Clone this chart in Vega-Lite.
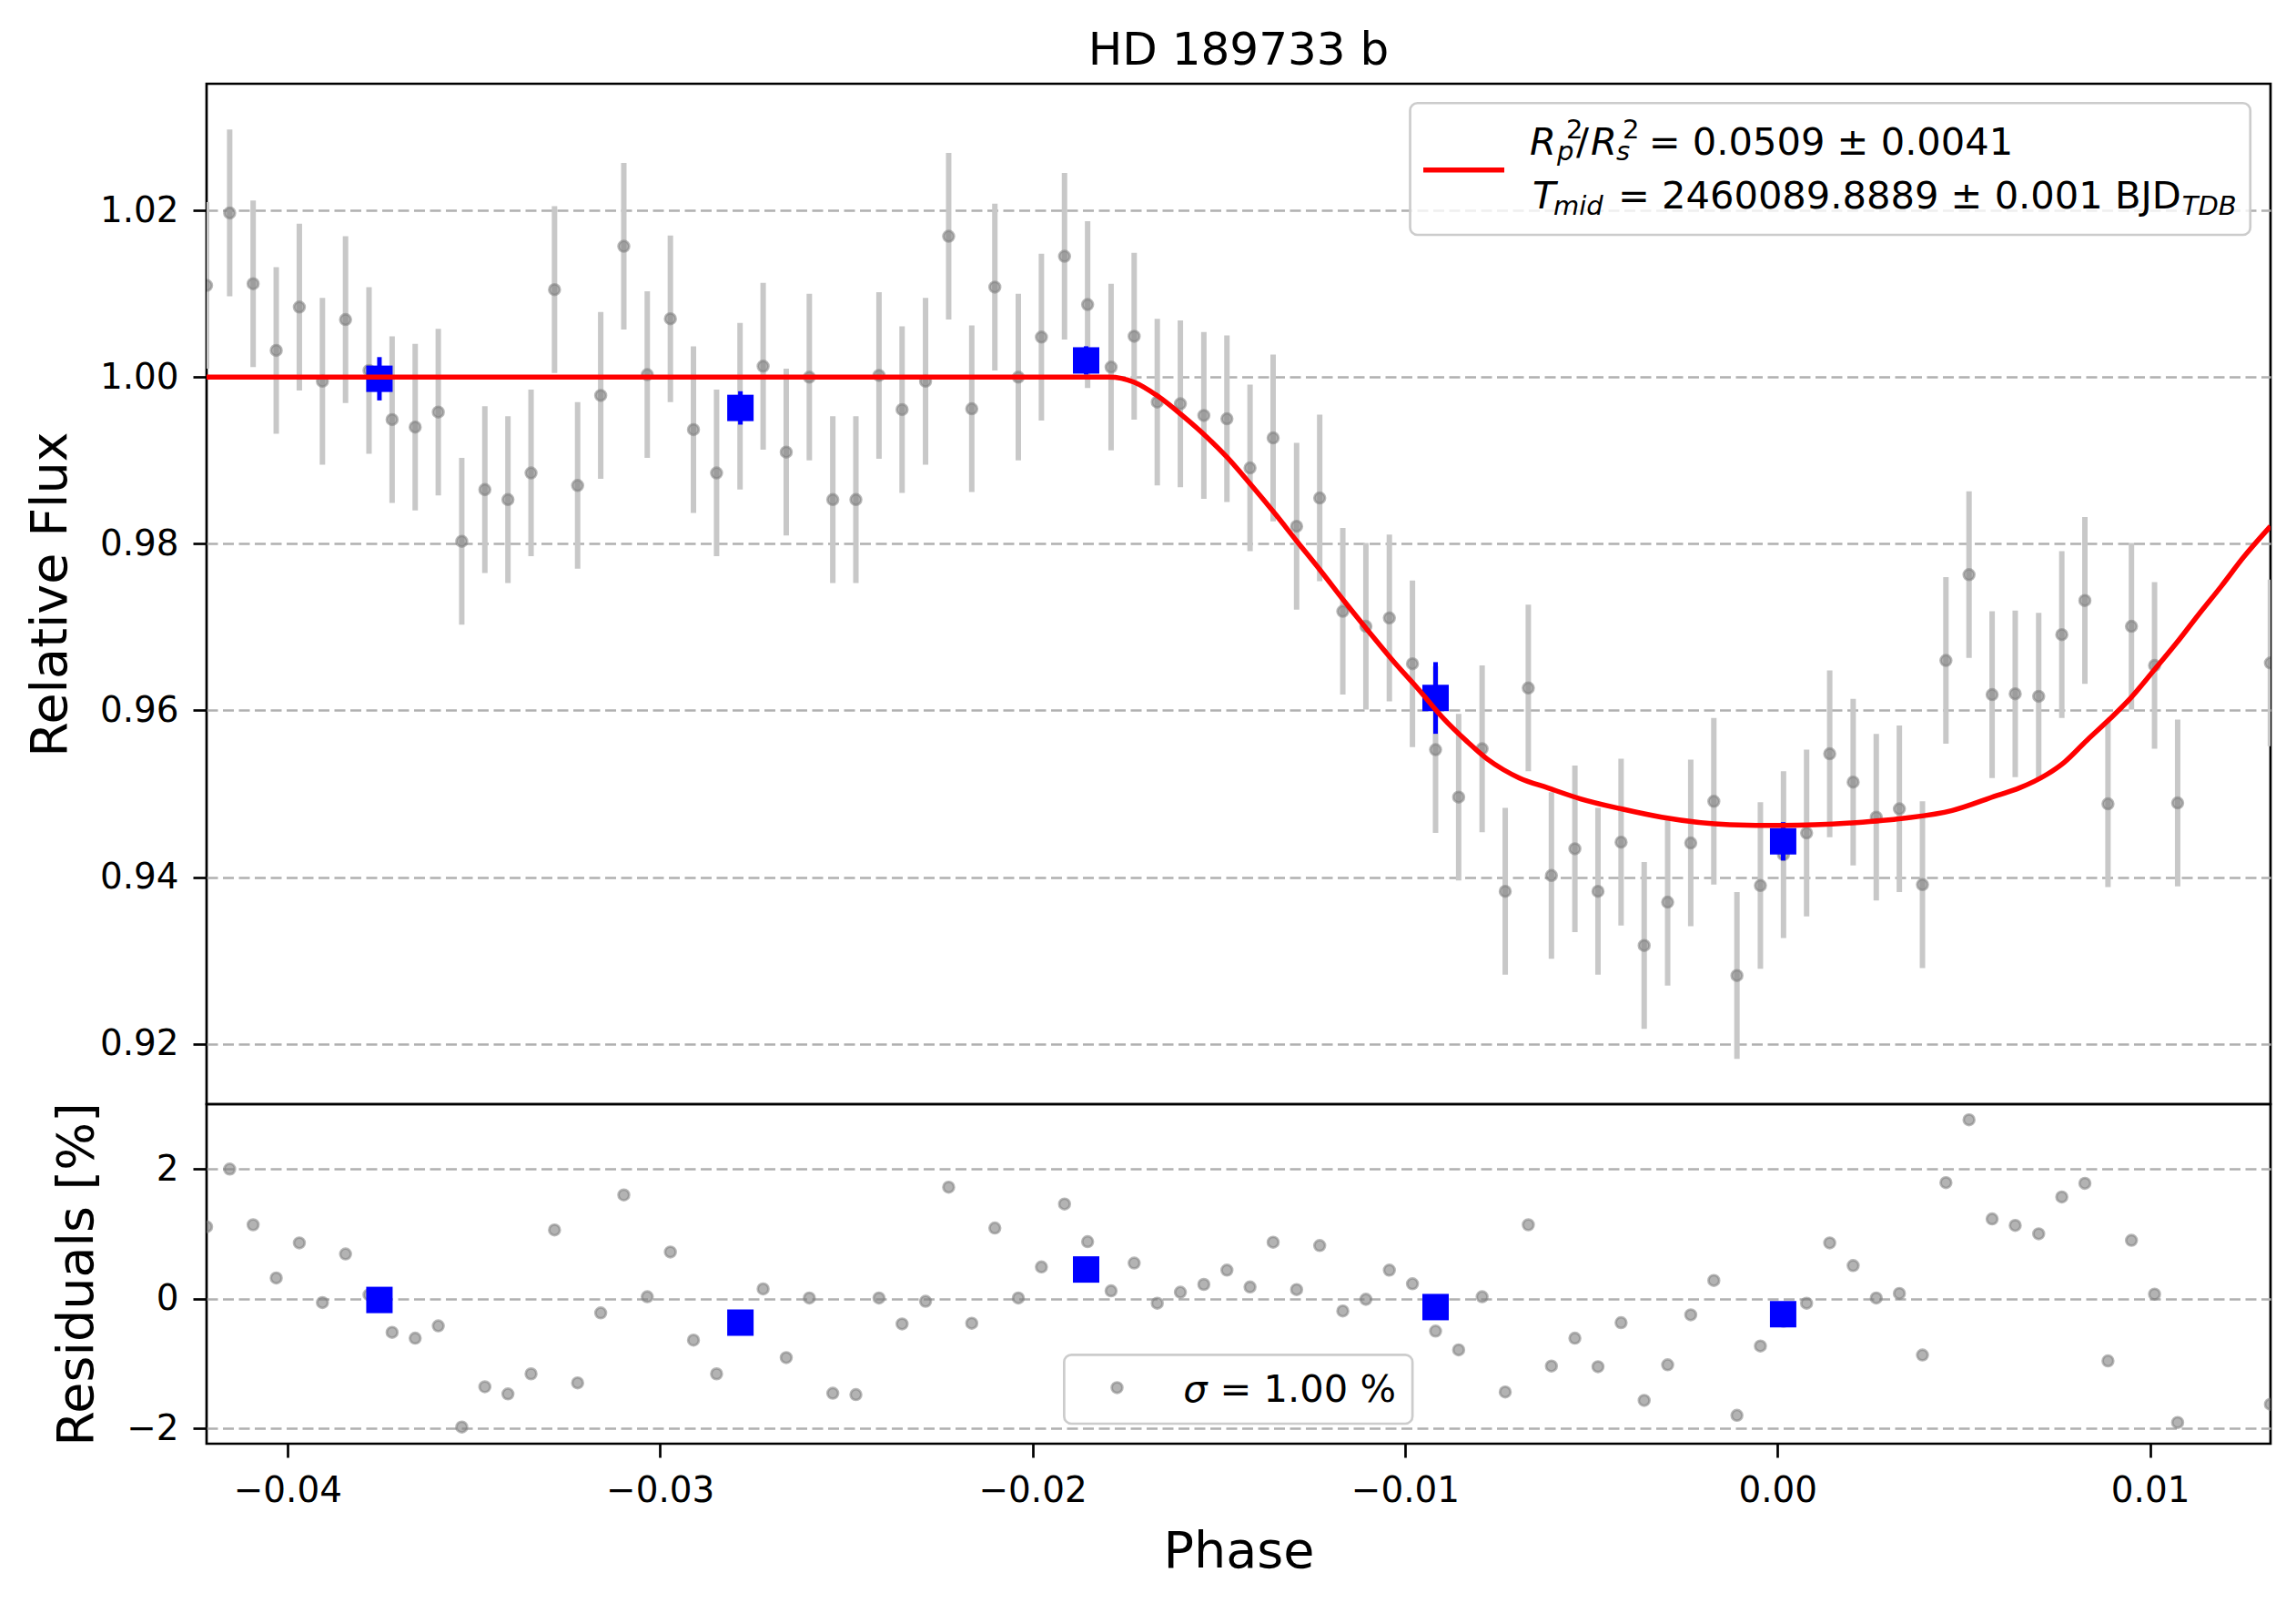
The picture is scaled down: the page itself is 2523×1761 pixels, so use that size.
{
  "$schema": "https://vega.github.io/schema/vega-lite/v6.json",
  "background": "white",
  "padding": {"left": 26, "top": 29, "right": 0, "bottom": 0},
  "spacing": 0,
  "bounds": "flush",
  "resolve": {"scale": {"x": "independent", "y": "independent"}},
  "config": {
    "font": "DejaVu Sans",
    "view": {"stroke": "black", "strokeWidth": 2.7},
    "axis": {
      "domain": false,
      "tickColor": "black",
      "tickWidth": 2.7,
      "tickSize": 15,
      "labelFont": "DejaVu Sans",
      "labelFontSize": 38.9,
      "labelColor": "black",
      "labelOverlap": false,
      "labelFlush": false,
      "titleFont": "DejaVu Sans",
      "titleFontSize": 55.6,
      "titleFontWeight": "normal",
      "titleColor": "black",
      "gridColor": "#b0b0b0",
      "gridDash": [12, 5.5],
      "gridWidth": 2.4
    }
  },
  "datasets": {
    "pts": [
      {"phase": -0.04217, "flux": 1.0110, "err": 0.01, "resid": 1.11},
      {"phase": -0.04155, "flux": 1.0197, "err": 0.01, "resid": 2.00},
      {"phase": -0.04092, "flux": 1.0112, "err": 0.01, "resid": 1.14},
      {"phase": -0.04030, "flux": 1.0032, "err": 0.01, "resid": 0.32},
      {"phase": -0.03968, "flux": 1.0084, "err": 0.01, "resid": 0.86},
      {"phase": -0.03906, "flux": 0.9995, "err": 0.01, "resid": -0.06},
      {"phase": -0.03844, "flux": 1.0069, "err": 0.01, "resid": 0.69},
      {"phase": -0.03781, "flux": 1.0008, "err": 0.01, "resid": 0.06},
      {"phase": -0.03719, "flux": 0.9949, "err": 0.01, "resid": -0.52},
      {"phase": -0.03657, "flux": 0.9940, "err": 0.01, "resid": -0.61},
      {"phase": -0.03595, "flux": 0.9958, "err": 0.01, "resid": -0.42},
      {"phase": -0.03532, "flux": 0.9803, "err": 0.01, "resid": -1.98},
      {"phase": -0.03470, "flux": 0.9865, "err": 0.01, "resid": -1.36},
      {"phase": -0.03408, "flux": 0.9853, "err": 0.01, "resid": -1.47},
      {"phase": -0.03346, "flux": 0.9885, "err": 0.01, "resid": -1.16},
      {"phase": -0.03283, "flux": 1.0105, "err": 0.01, "resid": 1.06},
      {"phase": -0.03221, "flux": 0.9870, "err": 0.01, "resid": -1.30},
      {"phase": -0.03159, "flux": 0.9978, "err": 0.01, "resid": -0.22},
      {"phase": -0.03097, "flux": 1.0157, "err": 0.01, "resid": 1.60},
      {"phase": -0.03034, "flux": 1.0003, "err": 0.01, "resid": 0.03},
      {"phase": -0.02972, "flux": 1.0070, "err": 0.01, "resid": 0.72},
      {"phase": -0.02910, "flux": 0.9937, "err": 0.01, "resid": -0.64},
      {"phase": -0.02848, "flux": 0.9885, "err": 0.01, "resid": -1.16},
      {"phase": -0.02785, "flux": 0.9965, "err": 0.01, "resid": -0.35},
      {"phase": -0.02723, "flux": 1.0013, "err": 0.01, "resid": 0.15},
      {"phase": -0.02661, "flux": 0.9910, "err": 0.01, "resid": -0.91},
      {"phase": -0.02599, "flux": 1.0000, "err": 0.01, "resid": 0.01},
      {"phase": -0.02536, "flux": 0.9853, "err": 0.01, "resid": -1.46},
      {"phase": -0.02474, "flux": 0.9853, "err": 0.01, "resid": -1.48},
      {"phase": -0.02412, "flux": 1.0002, "err": 0.01, "resid": 0.01},
      {"phase": -0.02350, "flux": 0.9961, "err": 0.01, "resid": -0.39},
      {"phase": -0.02287, "flux": 0.9995, "err": 0.01, "resid": -0.04},
      {"phase": -0.02225, "flux": 1.0169, "err": 0.01, "resid": 1.72},
      {"phase": -0.02163, "flux": 0.9962, "err": 0.01, "resid": -0.38},
      {"phase": -0.02101, "flux": 1.0108, "err": 0.01, "resid": 1.09},
      {"phase": -0.02038, "flux": 1.0000, "err": 0.01, "resid": 0.01},
      {"phase": -0.01976, "flux": 1.0048, "err": 0.01, "resid": 0.49},
      {"phase": -0.01914, "flux": 1.0145, "err": 0.01, "resid": 1.46},
      {"phase": -0.01852, "flux": 1.0087, "err": 0.01, "resid": 0.88},
      {"phase": -0.01789, "flux": 1.0012, "err": 0.01, "resid": 0.12},
      {"phase": -0.01727, "flux": 1.0049, "err": 0.01, "resid": 0.55},
      {"phase": -0.01665, "flux": 0.9970, "err": 0.01, "resid": -0.07},
      {"phase": -0.01603, "flux": 0.9968, "err": 0.01, "resid": 0.10},
      {"phase": -0.01540, "flux": 0.9954, "err": 0.01, "resid": 0.22},
      {"phase": -0.01478, "flux": 0.9950, "err": 0.01, "resid": 0.44},
      {"phase": -0.01416, "flux": 0.9891, "err": 0.01, "resid": 0.18},
      {"phase": -0.01354, "flux": 0.9927, "err": 0.01, "resid": 0.87},
      {"phase": -0.01291, "flux": 0.9821, "err": 0.01, "resid": 0.14},
      {"phase": -0.01229, "flux": 0.9855, "err": 0.01, "resid": 0.82},
      {"phase": -0.01167, "flux": 0.9719, "err": 0.01, "resid": -0.19},
      {"phase": -0.01105, "flux": 0.9701, "err": 0.01, "resid": -0.01},
      {"phase": -0.01042, "flux": 0.9711, "err": 0.01, "resid": 0.44},
      {"phase": -0.00980, "flux": 0.9656, "err": 0.01, "resid": 0.23},
      {"phase": -0.00918, "flux": 0.9553, "err": 0.01, "resid": -0.50},
      {"phase": -0.00856, "flux": 0.9496, "err": 0.01, "resid": -0.79},
      {"phase": -0.00793, "flux": 0.9554, "err": 0.01, "resid": 0.03},
      {"phase": -0.00731, "flux": 0.9383, "err": 0.01, "resid": -1.44},
      {"phase": -0.00669, "flux": 0.9627, "err": 0.01, "resid": 1.14},
      {"phase": -0.00607, "flux": 0.9402, "err": 0.01, "resid": -1.04},
      {"phase": -0.00544, "flux": 0.9434, "err": 0.01, "resid": -0.61},
      {"phase": -0.00482, "flux": 0.9383, "err": 0.01, "resid": -1.05},
      {"phase": -0.00420, "flux": 0.9442, "err": 0.01, "resid": -0.37},
      {"phase": -0.00358, "flux": 0.9318, "err": 0.01, "resid": -1.57},
      {"phase": -0.00295, "flux": 0.9370, "err": 0.01, "resid": -1.02},
      {"phase": -0.00233, "flux": 0.9441, "err": 0.01, "resid": -0.25},
      {"phase": -0.00171, "flux": 0.9491, "err": 0.01, "resid": 0.28},
      {"phase": -0.00109, "flux": 0.9282, "err": 0.01, "resid": -1.80},
      {"phase": -0.00046, "flux": 0.9390, "err": 0.01, "resid": -0.73},
      {"phase": 0.00016, "flux": 0.9427, "err": 0.01, "resid": -0.35},
      {"phase": 0.00078, "flux": 0.9453, "err": 0.01, "resid": -0.07},
      {"phase": 0.00140, "flux": 0.9548, "err": 0.01, "resid": 0.86},
      {"phase": 0.00203, "flux": 0.9514, "err": 0.01, "resid": 0.51},
      {"phase": 0.00265, "flux": 0.9472, "err": 0.01, "resid": 0.01},
      {"phase": 0.00327, "flux": 0.9482, "err": 0.01, "resid": 0.08},
      {"phase": 0.00389, "flux": 0.9391, "err": 0.01, "resid": -0.87},
      {"phase": 0.00452, "flux": 0.9660, "err": 0.01, "resid": 1.79},
      {"phase": 0.00514, "flux": 0.9763, "err": 0.01, "resid": 2.76},
      {"phase": 0.00576, "flux": 0.9619, "err": 0.01, "resid": 1.23},
      {"phase": 0.00638, "flux": 0.9620, "err": 0.01, "resid": 1.13},
      {"phase": 0.00701, "flux": 0.9617, "err": 0.01, "resid": 1.00},
      {"phase": 0.00763, "flux": 0.9691, "err": 0.01, "resid": 1.57},
      {"phase": 0.00825, "flux": 0.9732, "err": 0.01, "resid": 1.78},
      {"phase": 0.00887, "flux": 0.9488, "err": 0.01, "resid": -0.96},
      {"phase": 0.00950, "flux": 0.9701, "err": 0.01, "resid": 0.90},
      {"phase": 0.01012, "flux": 0.9654, "err": 0.01, "resid": 0.07},
      {"phase": 0.01074, "flux": 0.9489, "err": 0.01, "resid": -1.91},
      {"phase": 0.01323, "flux": 0.9657, "err": 0.01, "resid": -1.63}
    ],
    "bins": [
      {"phase": -0.03753, "flux": 0.9998, "err": 0.0026, "resid": -0.02},
      {"phase": -0.02784, "flux": 0.9963, "err": 0.0020, "resid": -0.37},
      {"phase": -0.01856, "flux": 1.0020, "err": 0.0017, "resid": 0.45},
      {"phase": -0.00918, "flux": 0.9615, "err": 0.0043, "resid": -0.13},
      {"phase": 0.00015, "flux": 0.9443, "err": 0.0023, "resid": -0.24}
    ],
    "model": [
      {"phase": -0.04217, "flux": 1.0000},
      {"phase": -0.01794, "flux": 1.0000},
      {"phase": -0.01728, "flux": 0.9994},
      {"phase": -0.01663, "flux": 0.9977},
      {"phase": -0.01598, "flux": 0.9954},
      {"phase": -0.01532, "flux": 0.9928},
      {"phase": -0.01478, "flux": 0.9904},
      {"phase": -0.01412, "flux": 0.9870},
      {"phase": -0.01347, "flux": 0.9835},
      {"phase": -0.01292, "flux": 0.9804},
      {"phase": -0.01227, "flux": 0.9768},
      {"phase": -0.01161, "flux": 0.9730},
      {"phase": -0.01096, "flux": 0.9694},
      {"phase": -0.01031, "flux": 0.9659},
      {"phase": -0.00965, "flux": 0.9626},
      {"phase": -0.00900, "flux": 0.9592},
      {"phase": -0.00834, "flux": 0.9563},
      {"phase": -0.00780, "flux": 0.9542},
      {"phase": -0.00736, "flux": 0.9529},
      {"phase": -0.00693, "flux": 0.9519},
      {"phase": -0.00616, "flux": 0.9507},
      {"phase": -0.00529, "flux": 0.9494},
      {"phase": -0.00420, "flux": 0.9482},
      {"phase": -0.00311, "flux": 0.9472},
      {"phase": -0.00128, "flux": 0.9463},
      {"phase": 0.00011, "flux": 0.9462},
      {"phase": 0.00228, "flux": 0.9466},
      {"phase": 0.00348, "flux": 0.9471},
      {"phase": 0.00469, "flux": 0.9480},
      {"phase": 0.00589, "flux": 0.9498},
      {"phase": 0.00649, "flux": 0.9507},
      {"phase": 0.00722, "flux": 0.9523},
      {"phase": 0.00770, "flux": 0.9538},
      {"phase": 0.00830, "flux": 0.9564},
      {"phase": 0.00890, "flux": 0.9589},
      {"phase": 0.00950, "flux": 0.9616},
      {"phase": 0.01010, "flux": 0.9648},
      {"phase": 0.01071, "flux": 0.9681},
      {"phase": 0.01130, "flux": 0.9715},
      {"phase": 0.01191, "flux": 0.9749},
      {"phase": 0.01251, "flux": 0.9784},
      {"phase": 0.01323, "flux": 0.9821}
    ]
  },
  "vconcat": [
    {
      "width": 2268,
      "height": 1121,
      "title": {
        "text": "HD 189733 b",
        "fontSize": 50,
        "fontWeight": "normal",
        "color": "black",
        "anchor": "middle",
        "frame": "group",
        "baseline": "alphabetic",
        "offset": -29
      },
      "layer": [
        {
          "data": {"name": "pts"},
          "mark": {"type": "errorbar", "ticks": false, "color": "#c8c8c8", "thickness": 6, "clip": true},
          "encoding": {
            "x": {"field": "phase", "type": "quantitative", "scale": {"domain": [-0.04217, 0.013233], "nice": false, "zero": false}, "axis": null},
            "y": {
              "field": "flux", "type": "quantitative", "title": "Relative Flux",
              "scale": {"domain": [0.91276, 1.0352], "nice": false, "zero": false},
              "axis": {"values": [0.92, 0.94, 0.96, 0.98, 1.0, 1.02], "format": ".2f", "grid": true, "labelPadding": 16, "title": "Relative Flux", "titleX": -155, "titleBaseline": "alphabetic"}
            },
            "yError": {"field": "err"}
          }
        },
        {
          "data": {"name": "pts"},
          "mark": {"type": "point", "filled": true, "size": 137, "fill": "#808080", "fillOpacity": 0.6, "stroke": "#808080", "strokeOpacity": 0.55, "strokeWidth": 2.8, "clip": true},
          "encoding": {
            "x": {"field": "phase", "type": "quantitative", "axis": null},
            "y": {"field": "flux", "type": "quantitative", "title": "Relative Flux"}
          }
        },
        {
          "data": {"name": "bins"},
          "mark": {"type": "errorbar", "ticks": false, "color": "blue", "thickness": 5},
          "encoding": {
            "x": {"field": "phase", "type": "quantitative", "axis": null},
            "y": {"field": "flux", "type": "quantitative", "title": "Relative Flux"},
            "yError": {"field": "err"}
          }
        },
        {
          "data": {"name": "bins"},
          "mark": {"type": "point", "shape": "square", "filled": true, "size": 841, "color": "blue", "opacity": 1},
          "encoding": {
            "x": {"field": "phase", "type": "quantitative", "axis": null},
            "y": {"field": "flux", "type": "quantitative", "title": "Relative Flux"}
          }
        },
        {
          "data": {"name": "model"},
          "mark": {"type": "line", "color": "red", "strokeWidth": 5.5, "interpolate": "monotone", "clip": true},
          "encoding": {
            "x": {"field": "phase", "type": "quantitative", "axis": null},
            "y": {"field": "flux", "type": "quantitative", "title": "Relative Flux"}
          }
        },
        {
          "data": {"values": [{}]},
          "mark": {"type": "rect", "fill": "white", "fillOpacity": 0.8, "stroke": "#cccccc", "strokeWidth": 2.7, "cornerRadius": 8},
          "encoding": {
            "x": {"datum": -0.009863, "type": "quantitative", "axis": null},
            "x2": {"datum": 0.01269},
            "y": {"datum": 1.03288, "type": "quantitative", "title": "Relative Flux"},
            "y2": {"datum": 1.01707}
          }
        },
        {
          "data": {"values": [{}]},
          "mark": {"type": "rule", "color": "red", "strokeWidth": 5.5},
          "encoding": {
            "x": {"datum": -0.009509, "type": "quantitative", "axis": null},
            "x2": {"datum": -0.007335},
            "y": {"datum": 1.02486, "type": "quantitative", "title": "Relative Flux"}
          }
        },
        {
          "data": {"values": [{}]},
          "mark": {"type": "text", "align": "left", "baseline": "alphabetic", "fontSize": 41.6, "fontStyle": "italic", "color": "black"},
          "encoding": {
            "x": {"datum": -0.006652, "type": "quantitative", "axis": null},
            "y": {"datum": 1.02668, "type": "quantitative", "title": "Relative Flux"},
            "text": {"value": "R"}
          }
        },
        {
          "data": {"values": [{}]},
          "mark": {"type": "text", "align": "left", "baseline": "alphabetic", "fontSize": 29, "color": "black"},
          "encoding": {
            "x": {"datum": -0.005677, "type": "quantitative", "axis": null},
            "y": {"datum": 1.02869, "type": "quantitative", "title": "Relative Flux"},
            "text": {"value": "2"}
          }
        },
        {
          "data": {"values": [{}]},
          "mark": {"type": "text", "align": "left", "baseline": "alphabetic", "fontSize": 29, "fontStyle": "italic", "color": "black"},
          "encoding": {
            "x": {"datum": -0.005919, "type": "quantitative", "axis": null},
            "y": {"datum": 1.02600, "type": "quantitative", "title": "Relative Flux"},
            "text": {"value": "p"}
          }
        },
        {
          "data": {"values": [{}]},
          "mark": {"type": "text", "align": "left", "baseline": "alphabetic", "fontSize": 41.6, "color": "black"},
          "encoding": {
            "x": {"datum": -0.005407, "type": "quantitative", "axis": null},
            "y": {"datum": 1.02668, "type": "quantitative", "title": "Relative Flux"},
            "text": {"value": "/"}
          }
        },
        {
          "data": {"values": [{}]},
          "mark": {"type": "text", "align": "left", "baseline": "alphabetic", "fontSize": 41.6, "fontStyle": "italic", "color": "black"},
          "encoding": {
            "x": {"datum": -0.005016, "type": "quantitative", "axis": null},
            "y": {"datum": 1.02668, "type": "quantitative", "title": "Relative Flux"},
            "text": {"value": "R"}
          }
        },
        {
          "data": {"values": [{}]},
          "mark": {"type": "text", "align": "left", "baseline": "alphabetic", "fontSize": 29, "color": "black"},
          "encoding": {
            "x": {"datum": -0.004161, "type": "quantitative", "axis": null},
            "y": {"datum": 1.02869, "type": "quantitative", "title": "Relative Flux"},
            "text": {"value": "2"}
          }
        },
        {
          "data": {"values": [{}]},
          "mark": {"type": "text", "align": "left", "baseline": "alphabetic", "fontSize": 29, "fontStyle": "italic", "color": "black"},
          "encoding": {
            "x": {"datum": -0.004332, "type": "quantitative", "axis": null},
            "y": {"datum": 1.02600, "type": "quantitative", "title": "Relative Flux"},
            "text": {"value": "s"}
          }
        },
        {
          "data": {"values": [{}]},
          "mark": {"type": "text", "align": "left", "baseline": "alphabetic", "fontSize": 41.6, "color": "black"},
          "encoding": {
            "x": {"datum": -0.003457, "type": "quantitative", "axis": null},
            "y": {"datum": 1.02668, "type": "quantitative", "title": "Relative Flux"},
            "text": {"value": "= 0.0509 ± 0.0041"}
          }
        },
        {
          "data": {"values": [{}]},
          "mark": {"type": "text", "align": "left", "baseline": "alphabetic", "fontSize": 41.6, "fontStyle": "italic", "color": "black"},
          "encoding": {
            "x": {"datum": -0.006579, "type": "quantitative", "axis": null},
            "y": {"datum": 1.02024, "type": "quantitative", "title": "Relative Flux"},
            "text": {"value": "T"}
          }
        },
        {
          "data": {"values": [{}]},
          "mark": {"type": "text", "align": "left", "baseline": "alphabetic", "fontSize": 29, "fontStyle": "italic", "color": "black"},
          "encoding": {
            "x": {"datum": -0.006017, "type": "quantitative", "axis": null},
            "y": {"datum": 1.01942, "type": "quantitative", "title": "Relative Flux"},
            "text": {"value": "mid"}
          }
        },
        {
          "data": {"values": [{}]},
          "mark": {"type": "text", "align": "left", "baseline": "alphabetic", "fontSize": 41.6, "color": "black"},
          "encoding": {
            "x": {"datum": -0.004283, "type": "quantitative", "axis": null},
            "y": {"datum": 1.02024, "type": "quantitative", "title": "Relative Flux"},
            "text": {"value": "= 2460089.8889 ± 0.001 BJD"}
          }
        },
        {
          "data": {"values": [{}]},
          "mark": {"type": "text", "align": "left", "baseline": "alphabetic", "fontSize": 29, "fontStyle": "italic", "color": "black"},
          "encoding": {
            "x": {"datum": 0.010857, "type": "quantitative", "axis": null},
            "y": {"datum": 1.01942, "type": "quantitative", "title": "Relative Flux"},
            "text": {"value": "TDB"}
          }
        }
      ]
    },
    {
      "width": 2268,
      "height": 373,
      "layer": [
        {
          "data": {"name": "pts"},
          "mark": {"type": "point", "filled": true, "size": 137, "fill": "#808080", "fillOpacity": 0.6, "stroke": "#808080", "strokeOpacity": 0.55, "strokeWidth": 2.8, "clip": true},
          "encoding": {
            "x": {
              "field": "phase", "type": "quantitative", "title": "Phase",
              "scale": {"domain": [-0.04217, 0.013233], "nice": false, "zero": false},
              "axis": {"values": [-0.04, -0.03, -0.02, -0.01, 0, 0.01], "format": ".2f", "grid": false, "labelPadding": 48, "labelBaseline": "alphabetic", "title": "Phase", "titleY": 135, "titleBaseline": "alphabetic"}
            },
            "y": {
              "field": "resid", "type": "quantitative", "title": "Residuals [%]",
              "scale": {"domain": [-2.238, 3.001], "nice": false, "zero": false},
              "axis": {"values": [-2, 0, 2], "format": "d", "grid": true, "labelPadding": 16, "title": "Residuals [%]", "titleX": -126, "titleBaseline": "alphabetic"}
            }
          }
        },
        {
          "data": {"name": "bins"},
          "mark": {"type": "point", "shape": "square", "filled": true, "size": 841, "color": "blue", "opacity": 1},
          "encoding": {
            "x": {"field": "phase", "type": "quantitative", "title": "Phase"},
            "y": {"field": "resid", "type": "quantitative", "title": "Residuals [%]"}
          }
        },
        {
          "data": {"values": [{}]},
          "mark": {"type": "rect", "fill": "white", "fillOpacity": 0.8, "stroke": "#cccccc", "strokeWidth": 2.7, "cornerRadius": 8},
          "encoding": {
            "x": {"datum": -0.01915, "type": "quantitative", "title": "Phase"},
            "x2": {"datum": -0.0098},
            "y": {"datum": -0.866, "type": "quantitative", "title": "Residuals [%]"},
            "y2": {"datum": -1.929}
          }
        },
        {
          "data": {"values": [{}]},
          "mark": {"type": "point", "filled": true, "size": 137, "fill": "#808080", "fillOpacity": 0.6, "stroke": "#808080", "strokeOpacity": 0.55, "strokeWidth": 2.8},
          "encoding": {
            "x": {"datum": -0.01773, "type": "quantitative", "title": "Phase"},
            "y": {"datum": -1.373, "type": "quantitative", "title": "Residuals [%]"}
          }
        },
        {
          "data": {"values": [{}]},
          "mark": {"type": "text", "align": "left", "baseline": "alphabetic", "fontSize": 41.6, "fontStyle": "italic", "color": "black"},
          "encoding": {
            "x": {"datum": -0.01595, "type": "quantitative", "title": "Phase"},
            "y": {"datum": -1.596, "type": "quantitative", "title": "Residuals [%]"},
            "text": {"value": "σ"}
          }
        },
        {
          "data": {"values": [{}]},
          "mark": {"type": "text", "align": "left", "baseline": "alphabetic", "fontSize": 41.6, "color": "black"},
          "encoding": {
            "x": {"datum": -0.01497, "type": "quantitative", "title": "Phase"},
            "y": {"datum": -1.596, "type": "quantitative", "title": "Residuals [%]"},
            "text": {"value": "= 1.00 %"}
          }
        }
      ]
    }
  ]
}
